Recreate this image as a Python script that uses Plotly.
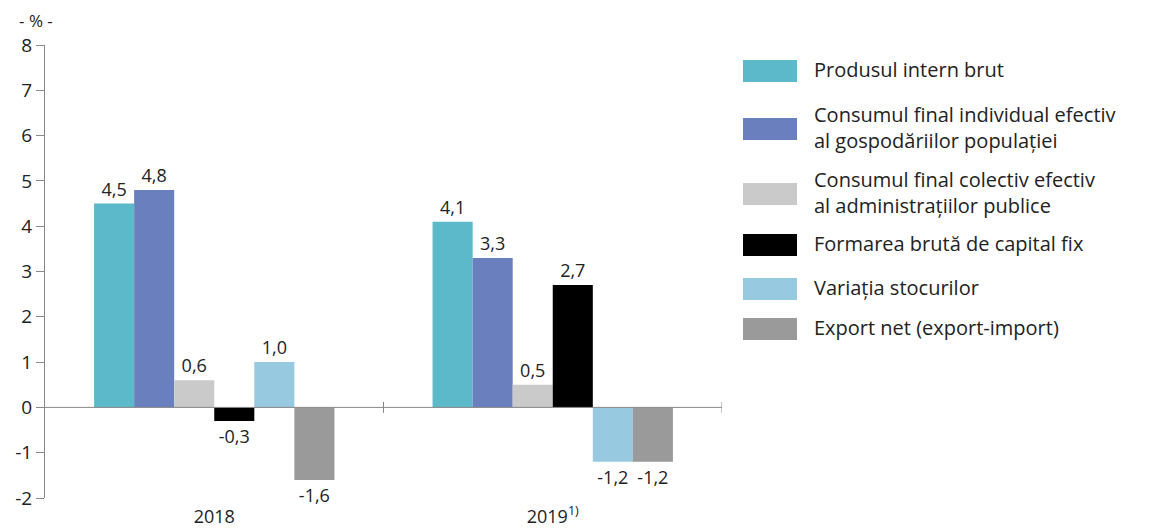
import plotly.graph_objects as go

ani = ["2018", "2019<sup>1)</sup>"]
serii = [
    "Produsul intern brut",
    "Consumul final individual efectiv<br>al gospodăriilor populației",
    "Consumul final colectiv efectiv<br>al administrațiilor publice",
    "Formarea brută de capital fix",
    "Variația stocurilor",
    "Export net (export-import)",
]
pib = [4.5, 4.1]
consum_individual = [4.8, 3.3]
consum_colectiv = [0.6, 0.5]
capital_fix = [-0.3, 2.7]
stocuri = [1.0, -1.2]
export_net = [-1.6, -1.2]
valori = [pib, consum_individual, consum_colectiv, capital_fix, stocuri, export_net]
culori = ["#5BB9CA", "#6A80BE", "#CACACA", "#000000", "#97C9E0", "#9A9A9A"]
y_ticks = list(range(-2, 9))
y_etichete = [str(t) for t in y_ticks]

# pagina html are o margine de 8px in jurul figurii
OFF = 8
W, H = 1149 - OFF, 532 - OFF
ML, MT = 45 - OFF, 45 - OFF
MR = W - (722 - OFF)
MB = H - (498 - OFF)
font = "Open Sans"

fig = go.Figure()
for nume, v, c in zip(serii, valori, culori):
    fig.add_trace(go.Bar(x=ani, y=v, name=nume, marker_color=c, marker_line_width=0,
                         texttemplate="%{y:.1f}", textposition="outside",
                         textfont=dict(size=18, color="#222"), cliponaxis=False))

# linia axei x la zero si liniutele dintre categorii
fig.add_shape(type="line", xref="x", yref="y", x0=-0.5, x1=1.5, y0=0, y1=0,
              line=dict(color="#888", width=1))
for xt in [0.5, 1.5]:
    fig.add_shape(type="line", xref="x", yref="y", x0=xt, x1=xt, y0=-0.12, y1=0.12,
                  line=dict(color="#888", width=1))

# legenda desenata manual (coordonate in pixeli ai paginii)
pw = W - ML - MR
ph = H - MT - MB
def px_x(p):
    return (p - OFF - ML) / pw
def px_y(p):
    return 1 - (p - OFF - MT) / ph

rand_y = [71, 129, 194, 245, 289, 329]
for nume, c, yc in zip(serii, culori, rand_y):
    fig.add_shape(type="rect", xref="paper", yref="paper",
                  x0=px_x(743), x1=px_x(797), y0=px_y(yc + 11), y1=px_y(yc - 11),
                  fillcolor=c, line_width=0)
    fig.add_annotation(xref="paper", yref="paper", x=px_x(812), y=px_y(yc - 2),
                       text=nume, showarrow=False, xanchor="left", yanchor="middle",
                       align="left", font=dict(size=20, color="#222", family=font))

fig.add_annotation(xref="paper", yref="paper", x=px_x(36), y=px_y(OFF), text="- % -",
                   showarrow=False, xanchor="center", yanchor="top", borderpad=0,
                   font=dict(size=17, color="#222", family=font))

fig.update_layout(
    width=W, height=H, margin=dict(l=ML, r=MR, t=MT, b=MB),
    plot_bgcolor="white", paper_bgcolor="white",
    barmode="group", bargap=0.29, bargroupgap=0,
    showlegend=False, separators=",.",
    font=dict(family=font, size=18, color="#222"),
    xaxis=dict(showline=False, showgrid=False, ticks="", tickfont=dict(size=18),
               range=[-0.5, 1.5], automargin=False, ticklabelstandoff=6),
    yaxis=dict(range=[-2, 8], tickvals=y_ticks, ticktext=y_etichete, showgrid=False,
               zeroline=False, showline=True, linecolor="#888", ticks="outside",
               ticklen=8, tickcolor="#888", tickfont=dict(size=19), automargin=False),
)
fig.write_html("out.html")
